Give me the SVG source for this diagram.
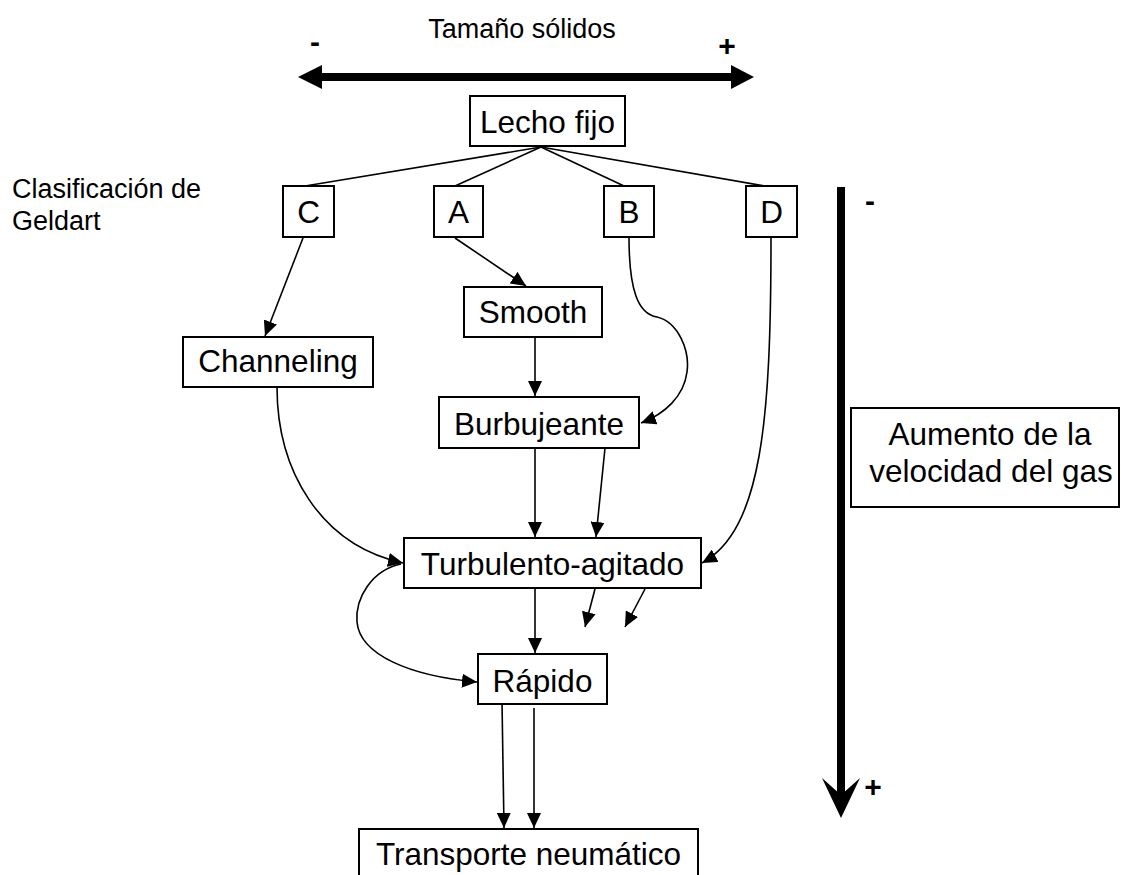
<svg xmlns="http://www.w3.org/2000/svg" width="1121" height="875" viewBox="0 0 1121 875">
<defs>
<style>
.box{fill:#fff;stroke:#000;stroke-width:2}
.t{font-family:"Liberation Sans",Arial,sans-serif;font-size:31.5px;fill:#000;text-anchor:middle}
.s{font-family:"Liberation Sans",Arial,sans-serif;font-size:27px;fill:#000}
.b{font-family:"Liberation Sans",Arial,sans-serif;font-size:30px;font-weight:bold;fill:#000;text-anchor:middle}
.c{fill:none;stroke:#000;stroke-width:1.6}
.a{fill:none;stroke:#000;stroke-width:1.6;marker-end:url(#ah)}
</style>
<marker id="ah" markerUnits="userSpaceOnUse" markerWidth="16" markerHeight="14" refX="15" refY="7" orient="auto">
<path d="M0,0 L15,7 L0,14 z" fill="#000"/>
</marker>
</defs>
<rect width="1121" height="875" fill="#fff"/>

<g id="size-axis">
<text class="s" x="522" y="38" text-anchor="middle">Tamaño sólidos</text>
<text class="b" x="315" y="52">-</text>
<text class="b" x="727" y="56">+</text>
<line x1="320" y1="77" x2="733" y2="77" stroke="#000" stroke-width="8"/>
<polygon points="298,77 322,65 322,89" fill="#000"/>
<polygon points="754,77 731,65 731,89" fill="#000"/>
</g>

<g id="velocity-axis">
<line x1="841" y1="187" x2="841" y2="800" stroke="#000" stroke-width="8"/>
<polygon points="822,778 841,795 860,778 841,818" fill="#000"/>
<text class="b" x="870" y="211">-</text>
<text class="b" x="873" y="797">+</text>
</g>

<g id="geldart-label">
<text class="s" x="12" y="198">Clasificación de</text>
<text class="s" x="12" y="230">Geldart</text>
</g>

<g id="connectors">
<line class="c" x1="541" y1="147" x2="305" y2="186"/>
<line class="c" x1="541" y1="147" x2="455" y2="186"/>
<line class="c" x1="541" y1="147" x2="624" y2="186"/>
<line class="c" x1="541" y1="147" x2="765" y2="186"/>
<line class="a" x1="303" y1="238" x2="265" y2="336"/>
<line class="a" x1="455" y1="238" x2="526" y2="286"/>
<line class="a" x1="535" y1="337" x2="535" y2="396"/>
<path class="a" d="M629,237 C629,290 638,314 657,317 C678,322 690,350 687,372 C684,396 665,414 641,423"/>
<path class="a" d="M771,237 C771,420 762,530 702,563"/>
<path class="a" d="M277,387 C277,470 320,545 403,563"/>
<line class="a" x1="535" y1="448" x2="535" y2="537"/>
<line class="a" x1="605" y1="448" x2="596" y2="537"/>
<line class="a" x1="535" y1="588" x2="535" y2="653"/>
<line class="a" x1="595" y1="589" x2="585" y2="627"/>
<line class="a" x1="645" y1="589" x2="625" y2="627"/>
<path class="a" d="M401,564 C372,570 355,598 357,622 C360,655 410,676 477,682"/>
<line class="a" x1="502" y1="702" x2="504" y2="828"/>
<line class="a" x1="534" y1="708" x2="534" y2="828"/>
</g>

<g id="lecho-fijo">
<rect class="box" x="470" y="96" width="155" height="50"/>
<text class="t" x="547.5" y="133">Lecho fijo</text>
</g>
<g id="C">
<rect class="box" x="283" y="186" width="51" height="51"/>
<text class="t" x="308.5" y="223">C</text>
</g>
<g id="A">
<rect class="box" x="434" y="186" width="49" height="51"/>
<text class="t" x="458.5" y="223">A</text>
</g>
<g id="B">
<rect class="box" x="604" y="186" width="50" height="51"/>
<text class="t" x="629" y="223">B</text>
</g>
<g id="D">
<rect class="box" x="746" y="186" width="51" height="51"/>
<text class="t" x="771.5" y="223">D</text>
</g>
<g id="smooth">
<rect class="box" x="464" y="287" width="138" height="50"/>
<text class="t" x="533" y="323">Smooth</text>
</g>
<g id="channeling">
<rect class="box" x="183" y="337" width="190" height="50"/>
<text class="t" x="278" y="372">Channeling</text>
</g>
<g id="burbujeante">
<rect class="box" x="439" y="397" width="200" height="51"/>
<text class="t" x="539" y="435">Burbujeante</text>
</g>
<g id="turbulento">
<rect class="box" x="404" y="538" width="297" height="50"/>
<text class="t" x="552.5" y="575">Turbulento-agitado</text>
</g>
<g id="rapido">
<rect class="box" x="478" y="654" width="129" height="50"/>
<text class="t" x="542.5" y="692">Rápido</text>
</g>
<g id="transporte">
<rect class="box" x="359" y="829" width="339" height="60"/>
<text class="t" x="528.5" y="865">Transporte neumático</text>
</g>
<g id="aumento">
<rect class="box" x="851" y="408" width="268" height="99"/>
<text class="t" x="990" y="445">Aumento de la</text>
<text class="t" x="991" y="482">velocidad del gas</text>
</g>
</svg>
